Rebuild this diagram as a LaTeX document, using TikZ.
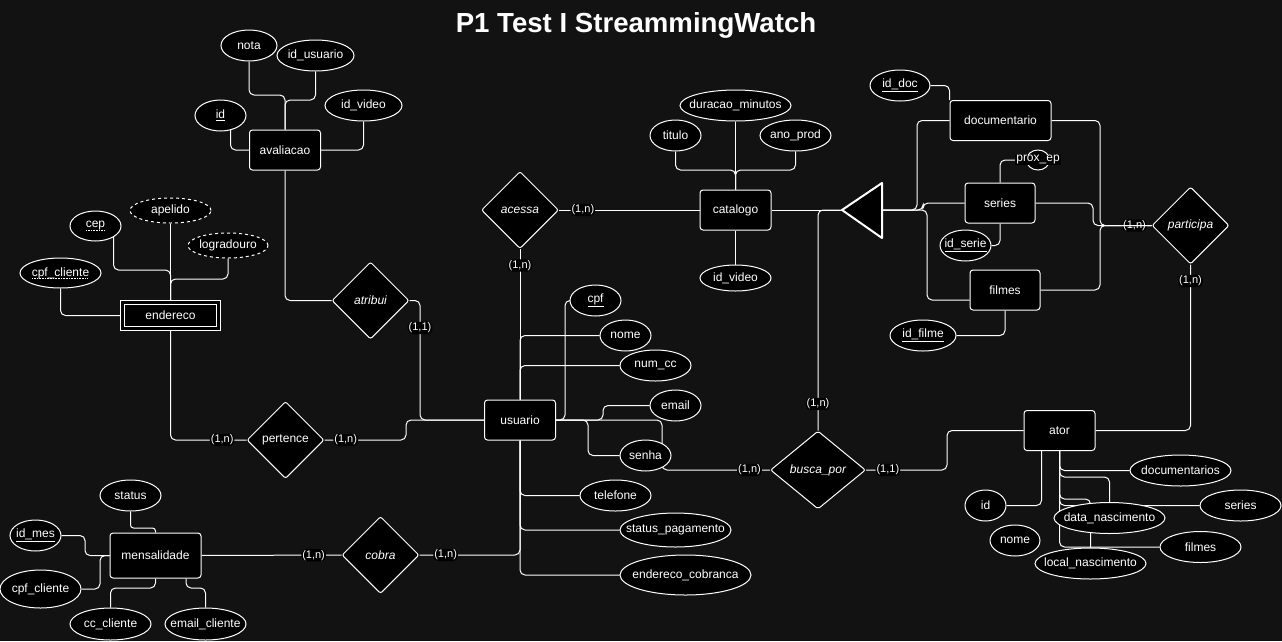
\documentclass[tikz,border=0pt]{standalone}
\usepackage{fontspec}
\setmainfont{Liberation Sans}
\usetikzlibrary{shapes.geometric, calc}
\definecolor{canvas}{RGB}{18,18,18}
\pgfdeclarelayer{bglayer}
\pgfdeclarelayer{wires}
\pgfsetlayers{bglayer,wires,main}
\newcommand{\atxt}[1]{\makebox[0pt]{#1}}
\newcommand{\keyul}[1]{\underline{#1}}
\newcommand{\dotul}[1]{\setbox0=\hbox{#1}\rlap{\raisebox{-2.5pt}{\makebox[\wd0]{\leaders\hbox to 1.6pt{\hss\rule{0.8pt}{0.8pt}\hss}\hfill}}}\box0}

\begin{document}
\begin{tikzpicture}[
    x=1pt, y=-1pt,
    entity/.style={rectangle, rounded corners=3pt, draw=white, fill=black, text=white, line width=1pt, minimum width=71pt, minimum height=40pt, inner sep=0pt, font=\fontsize{12}{14}\selectfont},
    weak/.style={rectangle, draw=white, fill=black, double=black, double distance=3pt, line width=1pt, text=white, minimum width=96pt, minimum height=26pt, inner sep=0pt, font=\fontsize{12}{14}\selectfont},
    rel/.style={diamond, draw=white, fill=black, text=white, line width=1pt, rounded corners=2pt, minimum width=77pt, minimum height=77pt, inner sep=0pt, font=\fontsize{12}{14}\selectfont\itshape},
    attr/.style={ellipse, draw=white, fill=black, text=white, line width=1pt, minimum width=51pt, minimum height=31pt, inner sep=0pt, font=\fontsize{12}{14}\selectfont},
    multi/.style={attr, dash pattern=on 3pt off 3pt},
    card/.style={fill=black, text=white, inner sep=1pt, font=\fontsize{11}{12}\selectfont},
    conn/.style={draw=white, line width=1pt, rounded corners=5pt},
]
\useasboundingbox (0,0) rectangle (1282,641);
\begin{pgfonlayer}{bglayer}
\fill[canvas] (0,0) rectangle (1282,641);
\end{pgfonlayer}

\node[text=white, font=\fontsize{27.6}{32}\selectfont\bfseries] (title) at (636,25) {P1 Test I StreammingWatch};

% entities
\node[entity] (aval) at (285,150) {avaliacao};
\node[entity] (cat) at (735.5,210) {catalogo};
\node[entity] (usu) at (520,420) {usuario};
\node[entity, minimum width=101pt] (doc) at (1000.5,120.5) {documentario};
\node[entity, minimum width=70pt] (ser) at (1000,203) {series};
\node[entity, minimum width=70pt] (fil) at (1005,290) {filmes};
\node[entity] (ator) at (1059.5,430.5) {ator};
\node[entity, minimum width=91pt, minimum height=45pt] (mens) at (155.5,555.5) {mensalidade};
\node[weak] (ender) at (170.5,315.5) {endereco};

% relationships
\node[rel] (acessa) at (520,210) {acessa};
\node[rel] (atribui) at (370.5,300.5) {atribui};
\node[rel, font=\fontsize{12}{14}\selectfont] (pertence) at (285.5,440) {pertence};
\node[rel] (cobra) at (380.5,555) {cobra};
\node[rel, minimum width=95pt, minimum height=78pt] (busca) at (818,470) {busca\_por};
\node[rel] (participa) at (1190.5,225.5) {participa};

% specialization of catalogo
\coordinate (isatip) at (842,210);
\coordinate (isaback) at (882,210);
\filldraw[fill=black, draw=white, line width=2pt, line join=round] (isatip) -- (882,183) -- (882,238) -- cycle;

% attributes
\node[attr, minimum width=56pt] (nota) at (249,45.5) {\atxt{nota}};
\node[attr, minimum width=77pt] (idusuario) at (315.5,55.5) {\atxt{id\_usuario}};
\node[attr] (idav) at (220.5,115.5) {\atxt{\keyul{id}}};
\node[attr, minimum width=77pt] (idvideo) at (363.5,105.5) {\atxt{id\_video}};

\node[multi, minimum width=81pt, minimum height=25pt] (apelido) at (170.5,210.5) {\atxt{apelido}};
\node[attr, minimum height=30pt] (cep) at (95.5,226) {\atxt{\dotul{cep}}};
\node[multi, minimum width=80pt, minimum height=25pt] (logradouro) at (228,245.5) {\atxt{logradouro}};
\node[attr, minimum width=81pt, minimum height=30pt] (cpfend) at (60.5,273) {\atxt{\dotul{cpf\_cliente}}};

\node[attr] (titulo) at (675.5,135.5) {\atxt{titulo}};
\node[attr, minimum width=111pt] (duracao) at (735.5,105.5) {\atxt{duracao\_minutos}};
\node[attr, minimum width=71pt] (anoprod) at (795.5,135.5) {\atxt{ano\_prod}};
\node[attr, minimum width=71pt, minimum height=26pt] (idvideocat) at (735.5,278) {\atxt{id\_video}};

\node[attr, minimum width=60pt] (iddoc) at (900,85.5) {\atxt{\keyul{id\_doc}}};
\node[attr, minimum width=23pt, minimum height=20pt, label={[card, font=\fontsize{12}{14}\selectfont]center:prox\_ep}] (proxep) at (1038,160) {};
\node[attr] (idserie) at (965.5,245.5) {\atxt{\keyul{id\_serie}}};
\node[attr, minimum width=66pt] (idfilme) at (923,335.5) {\atxt{\keyul{id\_filme}}};

\node[attr] (cpf) at (595.5,300.5) {\atxt{\keyul{cpf}}};
\node[attr] (nome) at (625.5,335.5) {\atxt{nome}};
\node[attr, minimum width=71pt] (numcc) at (655.5,365.5) {\atxt{num\_cc}};
\node[attr] (email) at (675.5,405.5) {\atxt{email}};
\node[attr] (senha) at (645.5,455.5) {\atxt{senha}};
\node[attr, minimum width=71pt] (telefone) at (615.5,495.5) {\atxt{telefone}};
\node[attr, minimum width=111pt, minimum height=34pt] (stpag) at (675.5,530) {\atxt{status\_pagamento}};
\node[attr, minimum width=131pt, minimum height=40pt] (endcob) at (685.5,575) {\atxt{endereco\_cobranca}};

\node[attr, minimum width=61pt] (status) at (130.5,495.5) {\atxt{status}};
\node[attr] (idmes) at (35.5,535.5) {\atxt{\keyul{id\_mes}}};
\node[attr, minimum width=81pt, minimum height=38pt] (cpfmens) at (40.5,589) {\atxt{cpf\_cliente}};
\node[attr, minimum width=81pt, minimum height=32pt] (cccli) at (110.5,624) {\atxt{cc\_cliente}};
\node[attr, minimum width=81pt, minimum height=32pt] (emailcli) at (205.5,624) {\atxt{email\_cliente}};

\node[attr, minimum width=41pt] (idator) at (985.5,505.5) {\atxt{id}};
\node[attr, minimum width=50pt] (nomeator) at (1015,540.5) {\atxt{nome}};
\node[attr, minimum width=101pt] (docs) at (1180.5,470.5) {\atxt{documentarios}};
\node[attr, minimum width=81pt] (seriesat) at (1240.5,505.5) {\atxt{series}};
\node[attr, minimum width=111pt] (datanasc) at (1109.5,518) {\atxt{data\_nascimento}};
\node[attr, minimum width=81pt] (filmesat) at (1200.5,547) {\atxt{filmes}};
\node[attr, minimum width=111pt] (localnasc) at (1090.5,563.5) {\atxt{local\_nascimento}};

% connectors
\begin{pgfonlayer}{wires}
\draw[conn] (nota) |- (285,95) -- (aval);
\draw[conn] (idusuario) |- (285,100) -- (aval);
\draw[conn] ([xshift=10pt]idav.center) |- (aval);
\draw[conn] (idvideo) |- (aval);
\draw[conn] (aval) |- (atribui);
\draw[conn] (atribui) -- (420,300.5) -- node[card, pos=0.23] {(1,1)} (420,420) -- (usu);

\draw[conn] (apelido) -- (ender);
\draw[conn] ([xshift=18pt]cep.center) |- (170.5,270) -- (ender);
\draw[conn] (logradouro) |- (170.5,279) -- (ender);
\draw[conn] (cpfend) |- (ender);
\draw[conn] (ender) |- node[card, pos=0.84] {(1,n)} (pertence);
\draw[conn] (pertence) -- node[card, pos=0.26] {(1,n)} (406,440) -- (406,420) -- (usu);

\draw[conn] (titulo) |- (735.5,170) -- (cat);
\draw[conn] (duracao) -- (cat);
\draw[conn] (anoprod) |- (735.5,170) -- (cat);
\draw[conn] (cat) -- (idvideocat);
\draw[conn] (acessa) -- node[card, pos=0.17] {(1,n)} (cat);
\draw[conn] (acessa) -- node[card, pos=0.11] {(1,n)} (usu);
\draw[conn] (cat) -- (isatip);

\draw[conn] (usu.east) -- (565,420) |- (cpf);
\draw[conn] (usu) |- (nome);
\draw[conn] (usu) |- (numcc);
\draw[conn] (usu.east) -- (603,420) |- (email);
\draw[conn] (usu.east) -- (588,420) |- (senha);
\draw[conn] (usu) |- (telefone);
\draw[conn] (usu) |- (stpag);
\draw[conn] (usu) |- (endcob);
\draw[conn] (usu.east) -- (662,420) -- (662,470) -- node[card, pos=0.81] {(1,n)} (busca);
\draw[conn] (cobra) -| node[card, pos=0.13] {(1,n)} (usu);
\draw[conn] (mens) -- node[card, pos=0.8] {(1,n)} (cobra);

\draw[conn, rounded corners=3pt] (status) -- (130.5,528) -| (mens);
\draw[conn] (idmes) -| (85,555.5) -- (mens);
\draw[conn] (cpfmens) -| (100,555.5) -- (mens);
\draw[conn] (cccli) |- (155.5,588) -- (mens);
\draw[conn] (emailcli) |- (186,588) -- ([xshift=30.5pt]mens.south);

\draw[conn] (busca) |- node[card, pos=0.06] {(1,n)} (isatip);
\draw[conn] (isaback) -- (917,210) |- (doc);
\draw[conn] (isaback) -- (923,210) |- (ser);
\draw[conn] (isaback) -- (927,210) |- ([yshift=-10pt]fil.west);
\draw[conn] (iddoc) -| (doc.north west);
\draw[conn] (ser) |- (proxep);
\draw[conn] (ser) |- (idserie);
\draw[conn] (fil) |- (idfilme);
\draw[conn] (doc) -| (1100,225.5) -- node[card, pos=0.67] {(1,n)} (participa);
\draw[conn] (ser) -| (1093,225.5) -- (participa);
\draw[conn] (fil) -| (1100,225.5) -- (participa);
\draw[conn] (participa) |- node[card, pos=0.05] {(1,n)} (ator);
\draw[conn] (busca) -- node[card, pos=0.27] {(1,1)} (947,470) |- (ator);

\draw[conn] ([xshift=-18pt]ator.center) |- (idator);
\draw[conn] (ator) |- (docs);
\draw[conn] (ator.south) -- (1059.5,477) -| (datanasc);
\draw[conn] (ator.south) -- (1059.5,499) -| (localnasc);
\draw[conn] (ator) |- (seriesat);
\draw[conn] (ator) |- (filmesat);
\end{pgfonlayer}

\end{tikzpicture}
\end{document}
